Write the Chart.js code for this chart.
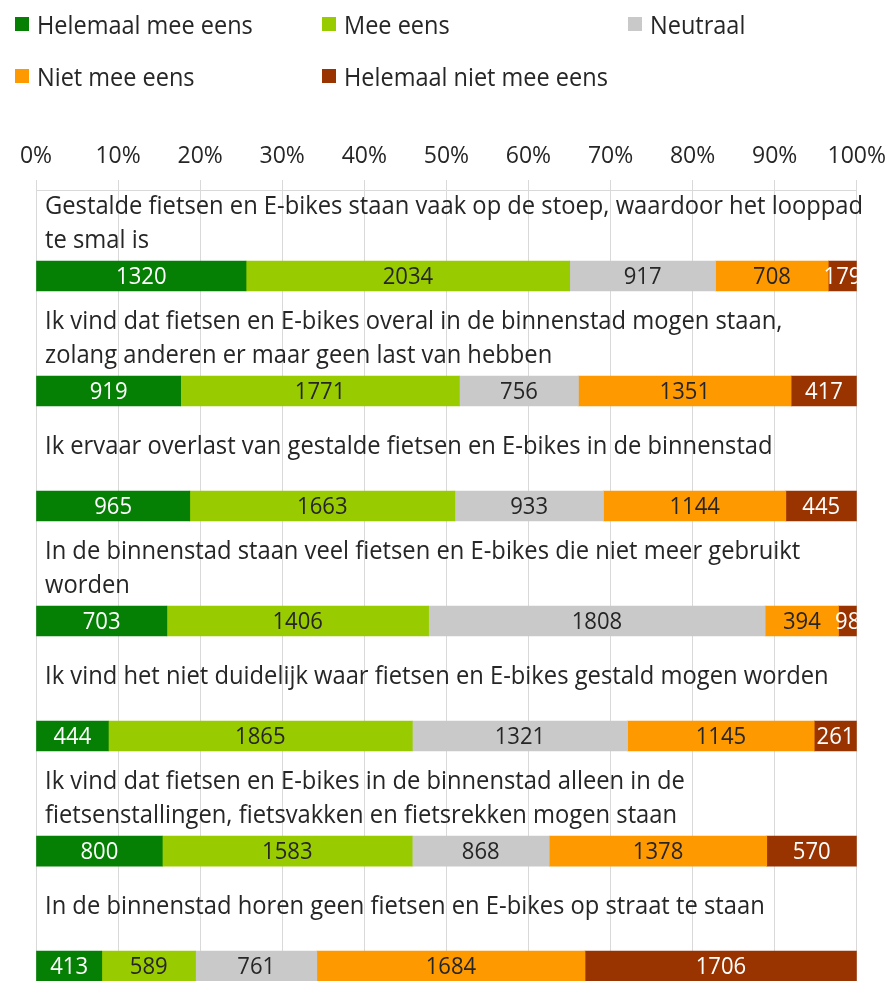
<!DOCTYPE html>
<html>
<head>
<meta charset="utf-8">
<script src="https://cdn.jsdelivr.net/npm/chart.js@4.4.1/dist/chart.umd.min.js"></script>
<style>
  html, body { margin: 0; padding: 0; background: #fff; }
  #wrap { position: relative; width: 896px; height: 983px; }
  #legend {
    position: absolute; left: 15px; top: -2px;
    display: grid; grid-template-columns: 307px 306px 260px; grid-auto-rows: 52px;
    align-items: center;
    font-family: 'Open Sans', sans-serif; font-size: 25px; color: #262626;
  }
  #legend .item { display: flex; align-items: center; white-space: nowrap; }
  #legend .box { width: 14px; height: 14px; margin-right: 8px; flex: none; }
  #legend .txt { display: inline-block; transform: scaleX(0.94); transform-origin: left center; }
  canvas { position: absolute; left: 0; top: 0; }
</style>
</head>
<body>
<div id="wrap">
  <canvas id="chart" width="896" height="983"></canvas>
  <div id="legend"></div>
</div>
<script>
// Survey statements (wrapped as in the source)
const categories = [
  ['Gestalde fietsen en E-bikes staan vaak op de stoep, waardoor het looppad', 'te smal is'],
  ['Ik vind dat fietsen en E-bikes overal in de binnenstad mogen staan,', 'zolang anderen er maar geen last van hebben'],
  ['Ik ervaar overlast van gestalde fietsen en E-bikes in de binnenstad'],
  ['In de binnenstad staan veel fietsen en E-bikes die niet meer gebruikt', 'worden'],
  ['Ik vind het niet duidelijk waar fietsen en E-bikes gestald mogen worden'],
  ['Ik vind dat fietsen en E-bikes in de binnenstad alleen in de', 'fietsenstallingen, fietsvakken en fietsrekken mogen staan'],
  ['In de binnenstad horen geen fietsen en E-bikes op straat te staan']
];

const seriesNames = ['Helemaal mee eens', 'Mee eens', 'Neutraal', 'Niet mee eens', 'Helemaal niet mee eens'];

// answer counts per statement
const helemaalMeeEens = [1320, 919, 965, 703, 444, 800, 413];
const meeEens = [2034, 1771, 1663, 1406, 1865, 1583, 589];
const neutraal = [917, 756, 933, 1808, 1321, 868, 761];
const nietMeeEens = [708, 1351, 1144, 394, 1145, 1378, 1684];
const helemaalNietMeeEens = [179, 417, 445, 98, 261, 570, 1706];

const xTicks = [0, 10, 20, 30, 40, 50, 60, 70, 80, 90, 100];

const counts = [helemaalMeeEens, meeEens, neutraal, nietMeeEens, helemaalNietMeeEens];
const COLORS = ['#058005', '#99cc00', '#c9c9c9', '#ff9900', '#993300'];
const LABEL_COLORS = ['#ffffff', '#262626', '#262626', '#262626', '#ffffff'];
const FONT = "'Open Sans', sans-serif";

const totals = categories.map((c, i) => counts.reduce((s, arr) => s + arr[i], 0));

// legend
const legendEl = document.getElementById('legend');
seriesNames.forEach((name, i) => {
  const item = document.createElement('div');
  item.className = 'item';
  if (i === 3) item.style.gridColumn = '1';
  item.innerHTML = '<span class="box" style="background:' + COLORS[i] + '"></span><span class="txt">' + name + '</span>';
  legendEl.appendChild(item);
});

// source font is narrower than what we have, squeeze a bit
function drawSqueezed(ctx, text, x, y, sx) {
  ctx.save();
  ctx.translate(x, y);
  ctx.scale(sx, 1);
  ctx.fillText(text, 0, 0);
  ctx.restore();
}

// statement text above each bar
const statementLabels = {
  id: 'statementLabels',
  afterDatasetsDraw(chart) {
    const { ctx, chartArea, scales } = chart;
    ctx.save();
    ctx.font = '25px ' + FONT;
    ctx.fillStyle = '#262626';
    ctx.textAlign = 'left';
    ctx.textBaseline = 'middle';
    categories.forEach((lines, i) => {
      const c = scales.y.getPixelForValue(i);
      const y0 = c - 59 - (lines.length - 1) * 10;
      lines.forEach((line, k) => drawSqueezed(ctx, line, chartArea.left + 9, y0 + k * 34, 0.95));
    });
    ctx.restore();
  }
};

// counts in the middle of each segment
const valueLabels = {
  id: 'valueLabels',
  afterDatasetsDraw(chart) {
    const { ctx, chartArea } = chart;
    ctx.save();
    ctx.beginPath();
    ctx.rect(chartArea.left, chartArea.top, chartArea.right - chartArea.left, chartArea.bottom - chartArea.top);
    ctx.clip();
    ctx.font = '24px ' + FONT;
    ctx.textAlign = 'center';
    ctx.textBaseline = 'middle';
    chart.data.datasets.forEach((ds, di) => {
      chart.getDatasetMeta(di).data.forEach((bar, i) => {
        ctx.fillStyle = LABEL_COLORS[di];
        drawSqueezed(ctx, String(counts[di][i]), (bar.x + bar.base) / 2, bar.y + 1, 0.92);
      });
    });
    ctx.restore();
  }
};

new Chart(document.getElementById('chart'), {
  type: 'bar',
  data: {
    datasets: counts.map((arr, di) => ({
      label: seriesNames[di],
      data: arr.map((v, i) => ({ x: v / totals[i] * 100, y: i })),
      backgroundColor: COLORS[di],
      borderWidth: 0,
      barThickness: 30
    }))
  },
  options: {
    indexAxis: 'y',
    responsive: false,
    animation: false,
    layout: { padding: { left: 36, right: 35, top: 0, bottom: 2 } },
    plugins: { legend: { display: false }, tooltip: { enabled: false } },
    scales: {
      x: {
        position: 'top',
        stacked: true,
        min: 0,
        max: 100,
        afterBuildTicks: s => { s.ticks = xTicks.map(v => ({ value: v })); },
        ticks: {
          callback: v => v + '%',
          color: '#262626',
          font: { family: FONT, size: 23 },
          padding: 10,
          maxRotation: 0,
          autoSkip: false
        },
        grid: { color: '#d9d9d9', tickLength: 10 },
        border: { color: '#d9d9d9' },
        afterFit: s => { s.height = 190; }
      },
      y: {
        type: 'linear',
        stacked: true,
        reverse: true,
        offset: false,
        grid: { offset: false },
        min: -0.748,
        max: 6.130,
        display: false
      }
    }
  },
  plugins: [statementLabels, valueLabels]
});
</script>
</body>
</html>
